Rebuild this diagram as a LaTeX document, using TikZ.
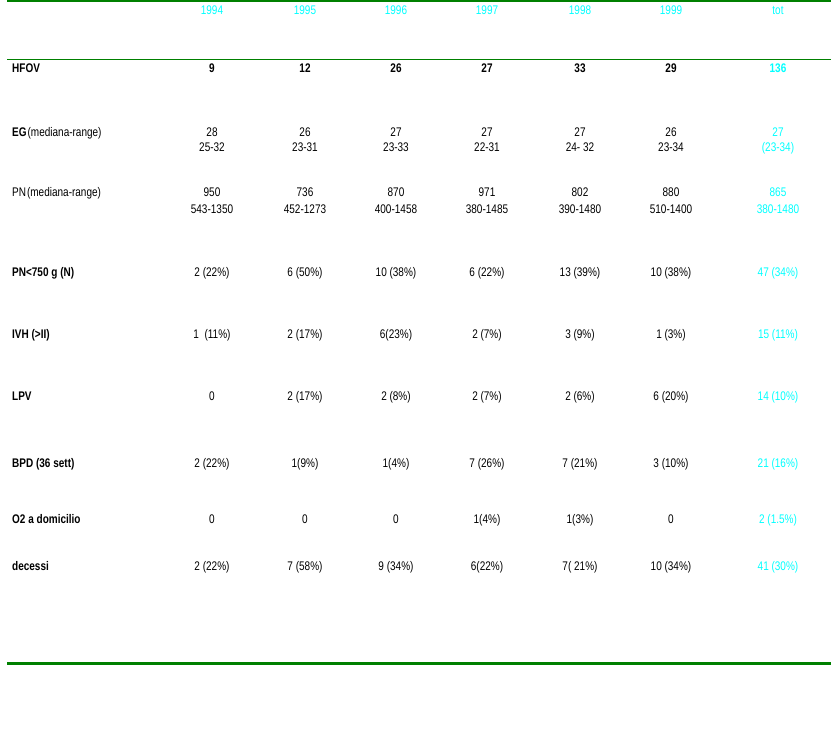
\documentclass[tikz,border=0pt]{standalone}
\usepackage{fontspec}
\setmainfont{Liberation Sans}[FakeStretch=0.8]
\definecolor{tabgreen}{RGB}{0,128,0}
\definecolor{totcyan}{RGB}{0,255,255}
\begin{document}
\begin{tikzpicture}[x=1pt,y=-1pt,
  cell/.style={anchor=base,inner sep=0pt,font=\fontsize{12.5}{14}\selectfont},
  lbl/.style={anchor=base west,inner sep=0pt,font=\fontsize{12.5}{14}\selectfont\bfseries},
  lblr/.style={anchor=base west,inner sep=0pt,font=\fontsize{12.5}{14}\selectfont},
  tot/.style={cell,text=totcyan},
  yr/.style={cell,text=totcyan},
  bold/.style={font=\fontsize{12.5}{14}\selectfont\bfseries}]
\useasboundingbox (0,0) rectangle (831,740);
\fill[white] (0,0) rectangle (831,740);
% rules
\coordinate (tl) at (7,1.2); \coordinate (tr) at (831,1.2);
\coordinate (ml) at (7,59.5); \coordinate (mr) at (831,59.5);
\coordinate (bl) at (7,663.5); \coordinate (br) at (831,663.5);
\draw[tabgreen,line width=2.2pt] (tl) -- (tr);
\draw[tabgreen,line width=1.3pt] (ml) -- (mr);
\draw[tabgreen,line width=2.2pt] (bl) -- (br);
% header
\def\cA{212}\def\cB{305}\def\cC{396}\def\cD{487}\def\cE{580}\def\cF{671}\def\cG{778}
\node[yr] (y94) at (\cA,14) {1994};
\node[yr] (y95) at (\cB,14) {1995};
\node[yr] (y96) at (\cC,14) {1996};
\node[yr] (y97) at (\cD,14) {1997};
\node[yr] (y98) at (\cE,14) {1998};
\node[yr] (y99) at (\cF,14) {1999};
\node[yr] (ytot) at (\cG,14) {tot};
% HFOV
\node[lbl] (lhfov) at (12,72) {HFOV};
\node[cell,bold] (h1) at (\cA,72) {9};
\node[cell,bold] (h2) at (\cB,72) {12};
\node[cell,bold] (h3) at (\cC,72) {26};
\node[cell,bold] (h4) at (\cD,72) {27};
\node[cell,bold] (h5) at (\cE,72) {33};
\node[cell,bold] (h6) at (\cF,72) {29};
\node[tot,bold] (h7) at (\cG,72) {136};
% EG
\node[lbl] (leg) at (12,136) {EG\kern1pt{\mdseries(mediana-range)}};
\node[cell] (e1a) at (\cA,136) {28}; \node[cell] (e1b) at (\cA,151) {25-32};
\node[cell] (e2a) at (\cB,136) {26}; \node[cell] (e2b) at (\cB,151) {23-31};
\node[cell] (e3a) at (\cC,136) {27}; \node[cell] (e3b) at (\cC,151) {23-33};
\node[cell] (e4a) at (\cD,136) {27}; \node[cell] (e4b) at (\cD,151) {22-31};
\node[cell] (e5a) at (\cE,136) {27}; \node[cell] (e5b) at (\cE,151) {24- 32};
\node[cell] (e6a) at (\cF,136) {26}; \node[cell] (e6b) at (\cF,151) {23-34};
\node[tot] (e7a) at (\cG,136) {27}; \node[tot] (e7b) at (\cG,151) {(23-34)};
% PN
\node[lblr] (lpn) at (12,196) {PN\kern1pt(mediana-range)};
\node[cell] (p1a) at (\cA,196) {950}; \node[cell] (p1b) at (\cA,213) {543-1350};
\node[cell] (p2a) at (\cB,196) {736}; \node[cell] (p2b) at (\cB,213) {452-1273};
\node[cell] (p3a) at (\cC,196) {870}; \node[cell] (p3b) at (\cC,213) {400-1458};
\node[cell] (p4a) at (\cD,196) {971}; \node[cell] (p4b) at (\cD,213) {380-1485};
\node[cell] (p5a) at (\cE,196) {802}; \node[cell] (p5b) at (\cE,213) {390-1480};
\node[cell] (p6a) at (\cF,196) {880}; \node[cell] (p6b) at (\cF,213) {510-1400};
\node[tot] (p7a) at (\cG,196) {865}; \node[tot] (p7b) at (\cG,213) {380-1480};
% PN<750
\node[lbl] (lp750) at (12,276) {PN<750 g (N)};
\node[cell] (q1) at (\cA,276) {2 (22\%)};
\node[cell] (q2) at (\cB,276) {6 (50\%)};
\node[cell] (q3) at (\cC,276) {10 (38\%)};
\node[cell] (q4) at (\cD,276) {6 (22\%)};
\node[cell] (q5) at (\cE,276) {13 (39\%)};
\node[cell] (q6) at (\cF,276) {10 (38\%)};
\node[tot] (q7) at (\cG,276) {47 (34\%)};
% IVH
\node[lbl] (livh) at (12,338) {IVH (>II)};
\node[cell] (i1) at (\cA,338) {1 \ (11\%)};
\node[cell] (i2) at (\cB,338) {2 (17\%)};
\node[cell] (i3) at (\cC,338) {6(23\%)};
\node[cell] (i4) at (\cD,338) {2 (7\%)};
\node[cell] (i5) at (\cE,338) {3 (9\%)};
\node[cell] (i6) at (\cF,338) {1 (3\%)};
\node[tot] (i7) at (\cG,338) {15 (11\%)};
% LPV
\node[lbl] (llpv) at (12,400) {LPV};
\node[cell] (l1) at (\cA,400) {0};
\node[cell] (l2) at (\cB,400) {2 (17\%)};
\node[cell] (l3) at (\cC,400) {2 (8\%)};
\node[cell] (l4) at (\cD,400) {2 (7\%)};
\node[cell] (l5) at (\cE,400) {2 (6\%)};
\node[cell] (l6) at (\cF,400) {6 (20\%)};
\node[tot] (l7) at (\cG,400) {14 (10\%)};
% BPD
\node[lbl] (lbpd) at (12,467) {BPD (36 sett)};
\node[cell] (b1) at (\cA,467) {2 (22\%)};
\node[cell] (b2) at (\cB,467) {1(9\%)};
\node[cell] (b3) at (\cC,467) {1(4\%)};
\node[cell] (b4) at (\cD,467) {7 (26\%)};
\node[cell] (b5) at (\cE,467) {7 (21\%)};
\node[cell] (b6) at (\cF,467) {3 (10\%)};
\node[tot] (b7) at (\cG,467) {21 (16\%)};
% O2
\node[lbl] (lo2) at (12,523) {O2 a domicilio};
\node[cell] (o1) at (\cA,523) {0};
\node[cell] (o2) at (\cB,523) {0};
\node[cell] (o3) at (\cC,523) {0};
\node[cell] (o4) at (\cD,523) {1(4\%)};
\node[cell] (o5) at (\cE,523) {1(3\%)};
\node[cell] (o6) at (\cF,523) {0};
\node[tot] (o7) at (\cG,523) {2 (1.5\%)};
% decessi
\node[lbl] (ldec) at (12,570) {decessi};
\node[cell] (d1) at (\cA,570) {2 (22\%)};
\node[cell] (d2) at (\cB,570) {7 (58\%)};
\node[cell] (d3) at (\cC,570) {9 (34\%)};
\node[cell] (d4) at (\cD,570) {6(22\%)};
\node[cell] (d5) at (\cE,570) {7( 21\%)};
\node[cell] (d6) at (\cF,570) {10 (34\%)};
\node[tot] (d7) at (\cG,570) {41 (30\%)};
\end{tikzpicture}
\end{document}
